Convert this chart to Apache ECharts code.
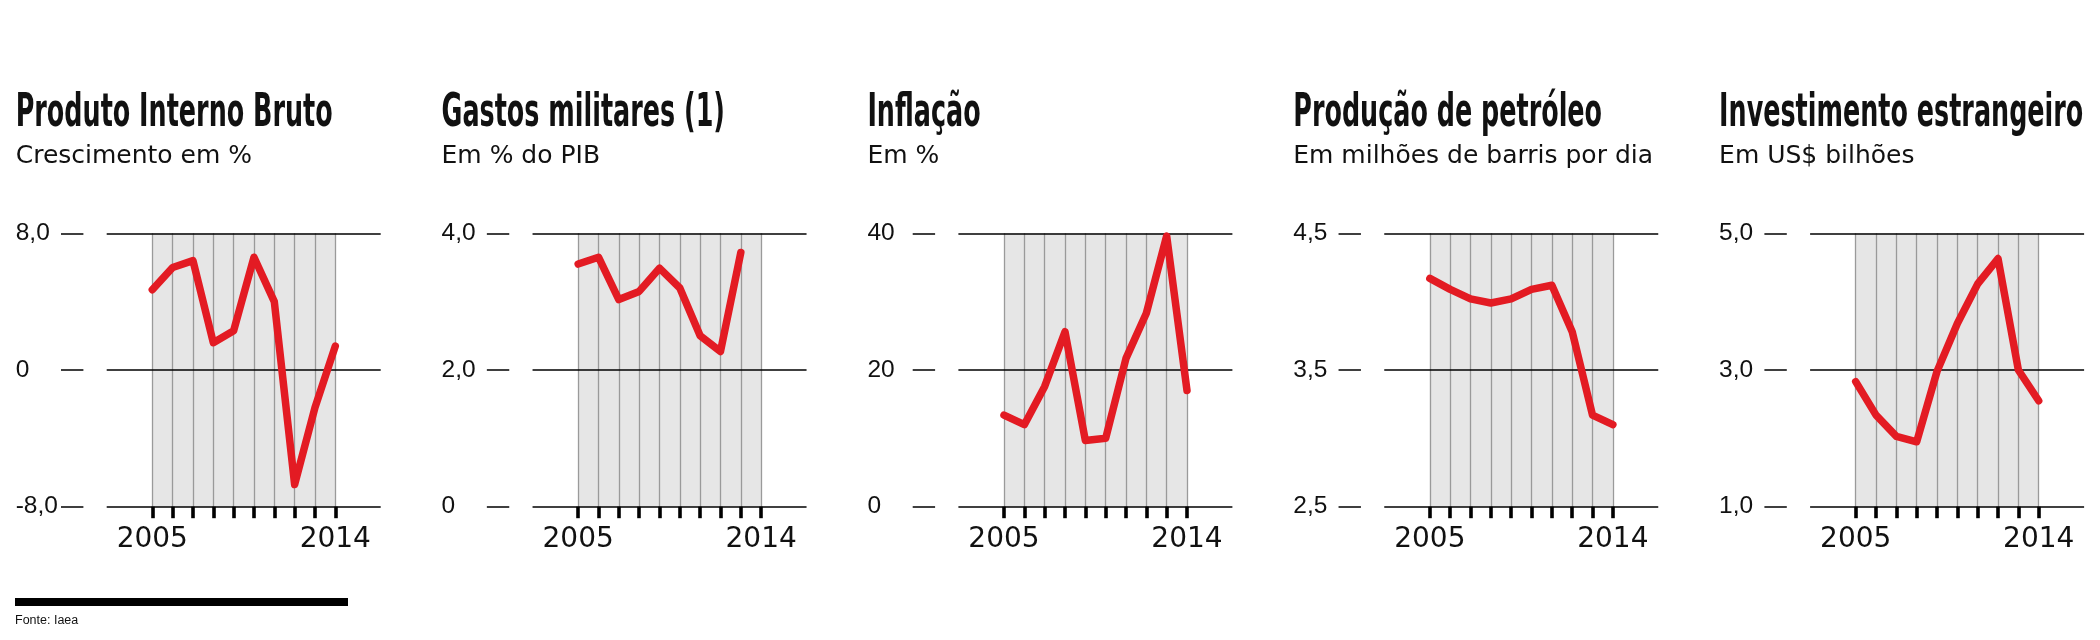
<!DOCTYPE html>
<html><head><meta charset="utf-8">
<script src="https://cdn.jsdelivr.net/npm/echarts@6/dist/echarts.min.js"></script>
<style>html,body{margin:0;background:#fff}#c{width:2100px;height:640px}</style>
</head><body><div id="c"></div>
<script>
// ---- data ----
const years = [2005, 2006, 2007, 2008, 2009, 2010, 2011, 2012, 2013, 2014];
const yearLabels = [2005, 2014];
const titles = ['Produto Interno Bruto', 'Gastos militares (1)', 'Inflação', 'Produção de petróleo', 'Investimento estrangeiro'];
const subtitles = ['Crescimento em %', 'Em % do PIB', 'Em %', 'Em milhões de barris por dia', 'Em US$ bilhões'];
const gdp = [4.7, 6.0, 6.4, 1.6, 2.3, 6.6, 4.0, -6.7, -2.2, 1.4];
const military = [3.55, 3.65, 3.03, 3.15, 3.49, 3.20, 2.50, 2.27, 3.72, null];
const inflation = [13.4, 12.0, 17.6, 25.6, 9.7, 10.0, 21.7, 28.3, 39.6, 17.0];
const oil = [4.17, 4.09, 4.02, 3.99, 4.02, 4.09, 4.12, 3.78, 3.17, 3.10];
const fdi = [2.83, 2.34, 2.03, 1.95, 2.98, 3.68, 4.26, 4.63, 3.00, 2.55];
const tickValues = [[-8, 0, 8], [0, 2, 4], [0, 20, 40], [2.5, 3.5, 4.5], [1, 3, 5]];
const tickLabels = [['-8,0', '0', '8,0'], ['0', '2,0', '4,0'], ['0', '20', '40'], ['2,5', '3,5', '4,5'], ['1,0', '3,0', '5,0']];
const sourceText = 'Fonte: Iaea';
const seriesData = [gdp, military, inflation, oil, fdi];

// ---- layout ----
const STEP = 425.85, X0 = 15.7, TOP = 233.3, H = 273.4;
const RED = '#e31b23';
const titleFont = 'bold 46px "Liberation Sans Narrow", "DejaVu Sans Condensed", "Liberation Sans", sans-serif';
const ctx = document.createElement('canvas').getContext('2d');
ctx.font = titleFont;
const titleScale = 317 / ctx.measureText(titles[0]).width;

const grid = [], xAxis = [], yAxis = [], series = [], graphic = [];
for (let i = 0; i < 5; i++) {
  const x0 = X0 + STEP * i;
  const tv = tickValues[i];
  const mn = tv[0], mx = tv[tv.length - 1];
  grid.push({ left: x0 + 91, top: TOP, width: 274, height: H, containLabel: false, z: 2 });
  grid.push({ left: x0 + 136.6, top: TOP, width: 183, height: H, containLabel: false, show: true,
    backgroundColor: '#e6e6e6', borderWidth: 0, z: 0 });
  xAxis.push({ gridIndex: 2 * i, type: 'value', min: 0, max: 1, show: false });
  xAxis.push({ gridIndex: 2 * i + 1, type: 'value', min: years[0], max: years[years.length - 1], interval: 1, z: 1,
    position: 'bottom',
    axisLine: { show: false, onZero: false },
    axisTick: { show: true, length: 11.5, lineStyle: { color: '#000', width: 3.6 } },
    splitLine: { show: true, lineStyle: { color: '#9a9a9a', width: 1.3 } },
    axisLabel: { show: true, margin: 19, fontFamily: 'DejaVu Sans', fontSize: 28, color: '#111',
      showMinLabel: true, showMaxLabel: true,
      formatter: v => yearLabels.includes(v) ? String(v) : '' } });
  const lbl = i;
  yAxis.push({ gridIndex: 2 * i, type: 'value', min: mn, max: mx, z: 3,
    axisLine: { show: false },
    axisTick: { show: false, customValues: tv },
    splitLine: { show: true, lineStyle: { color: '#000', width: 1.5 } },
    axisLabel: { show: true, customValues: tv, align: 'left', margin: 91, fontFamily: 'Liberation Sans', fontSize: 24.5, color: '#111',
      formatter: v => { const k = tickValues[lbl].indexOf(v); return k >= 0 ? tickLabels[lbl][k] : ''; } } });
  yAxis.push({ gridIndex: 2 * i, type: 'value', min: mn, max: mx, position: 'left', offset: 23.3, z: 3,
    axisLine: { show: false },
    axisTick: { show: true, customValues: tv, length: 22.4, lineStyle: { color: '#000', width: 1.5 } },
    splitLine: { show: false }, axisLabel: { show: false } });
  yAxis.push({ gridIndex: 2 * i + 1, type: 'value', min: mn, max: mx, show: false,
    splitLine: { show: false } });
  series.push({ type: 'line', xAxisIndex: 2 * i + 1, yAxisIndex: 3 * i + 2, z: 5,
    data: years.map((y, j) => [y, seriesData[i][j]]), symbol: 'none', clip: false,
    connectNulls: false,
    lineStyle: { color: RED, width: 7.5, cap: 'round', join: 'round' } });
  graphic.push({ type: 'text', x: x0, y: 114.5, scaleX: titleScale, z: 10,
    style: { text: titles[i], font: titleFont, fill: '#111', verticalAlign: 'middle', align: 'left' } });
  graphic.push({ type: 'text', x: x0, y: 156, z: 10,
    style: { text: subtitles[i], font: '25px "DejaVu Sans", sans-serif', fill: '#111', verticalAlign: 'middle', align: 'left' } });
}
graphic.push({ type: 'rect', shape: { x: 15, y: 598, width: 333, height: 8 }, style: { fill: '#000' } });
graphic.push({ type: 'text', x: 15, y: 621, style: { text: sourceText, font: '12.5px "Liberation Sans", sans-serif', fill: '#111', verticalAlign: 'middle' } });

const chart = echarts.init(document.getElementById('c'));
chart.setOption({ backgroundColor: '#fff', animation: false, grid, xAxis, yAxis, series, graphic });
</script></body></html>
